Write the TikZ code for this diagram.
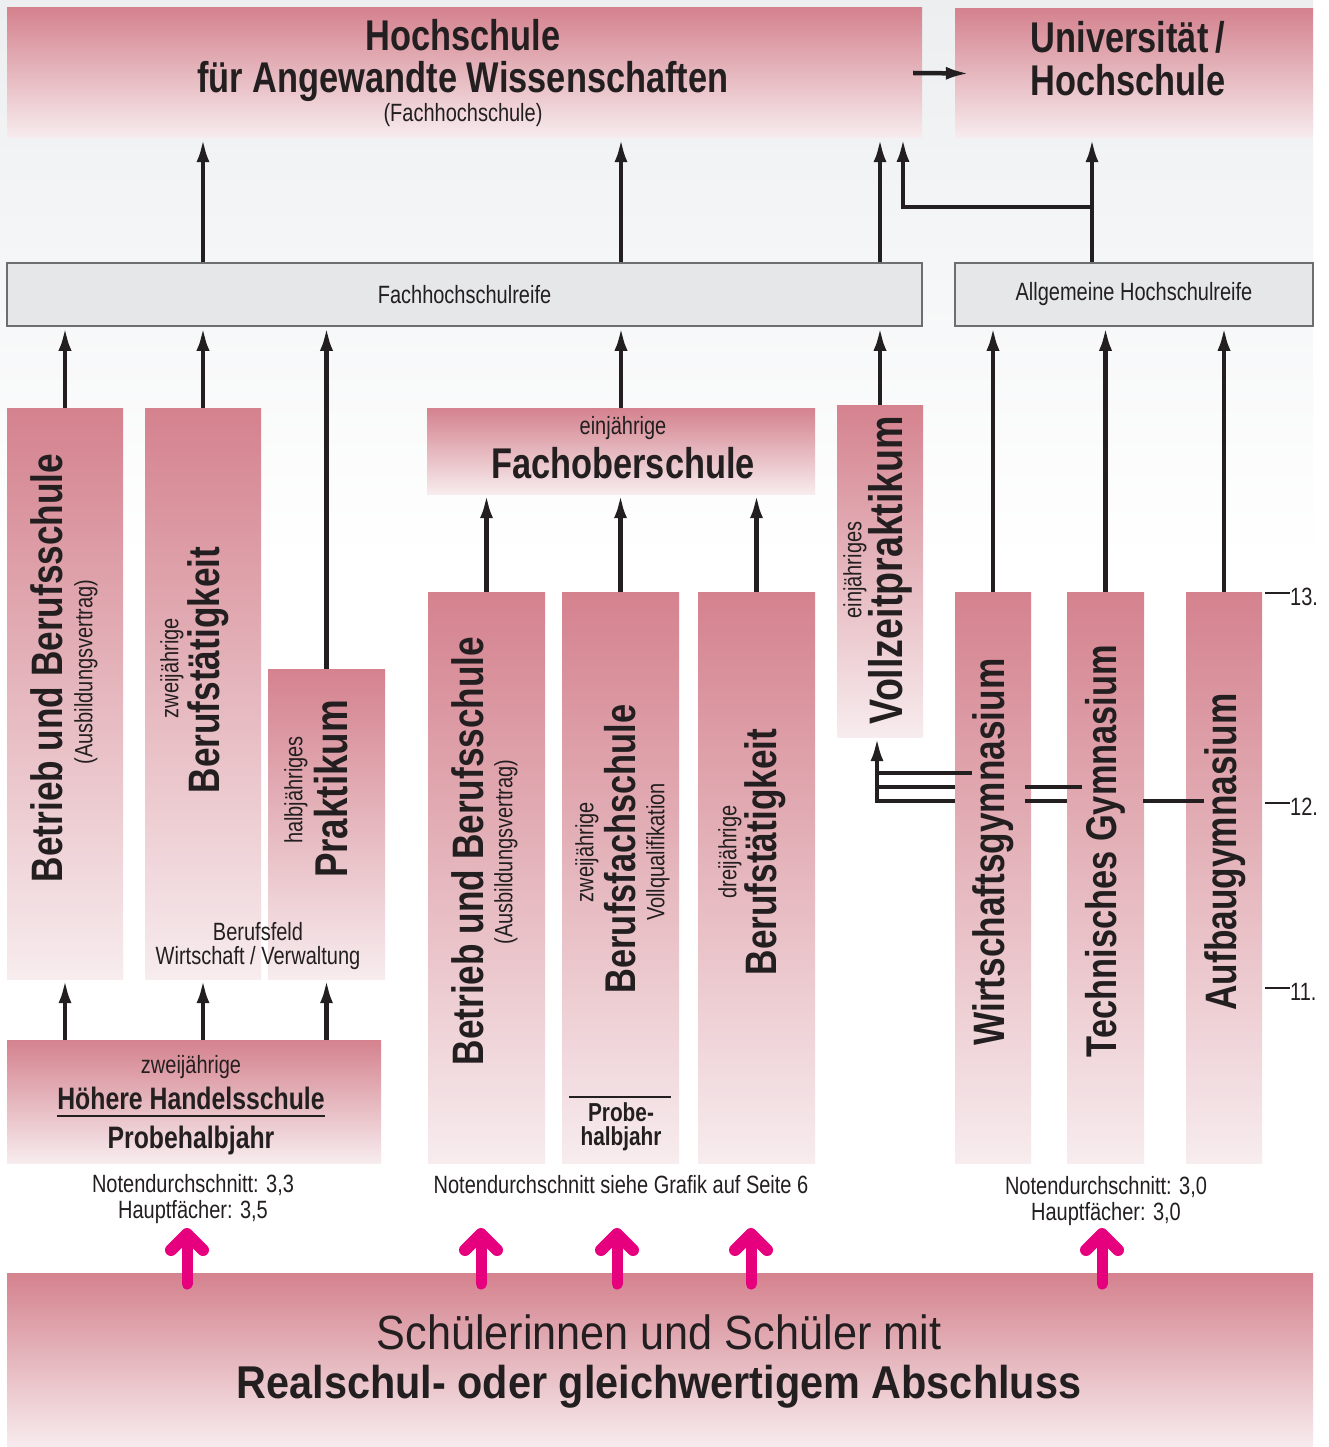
\documentclass[tikz,border=0pt]{standalone}
\usepackage{fontspec}
\setmainfont{Liberation Sans}[FakeStretch=0.8]
\newfontfamily\wide{Liberation Sans}[FakeStretch=0.9]
\usetikzlibrary{arrows.meta}
\definecolor{ink}{HTML}{231F20}
\definecolor{pinktop}{RGB}{212,130,142}
\definecolor{pinkbot}{RGB}{247,236,238}
\definecolor{barfill}{HTML}{E6E7E9}
\definecolor{barline}{HTML}{6D6E70}
\definecolor{magup}{RGB}{230,0,126}
\definecolor{bgtop}{HTML}{ECEEF0}
\definecolor{bgmid}{HTML}{F2F3F3}
\newcommand\fs[2]{\fontsize{#1}{#2}\selectfont}
\begin{document}
\begin{tikzpicture}[x=1pt,y=-1pt,
	pinkbox/.style args={#1/#2}{inner sep=0pt, minimum width=#1, minimum height=#2, top color=pinktop, bottom color=pinkbot, draw=none},
	greybar/.style args={#1/#2}{inner sep=0pt, minimum width=#1, minimum height=#2, fill=barfill, draw=barline, line width=1.5pt, text=ink, font=\fs{25}{27}},
	up/.style={draw=ink, line width=4.5pt, -{Latex[length=24pt,width=13pt]}},
	link/.style={draw=ink, line width=4pt},
	rule/.style={draw=ink, line width=1.5pt},
	txt/.style={text=ink, inner sep=0pt},
	vtxt/.style={text=ink, inner sep=0pt, rotate=90},
	big/.style={font=\fs{44}{44}\bfseries},
	small/.style={font=\fs{25}{27}},
	magpic/.pic={\draw[magup, line width=11pt, line cap=round] (0,0) -- (0,-44);
		\draw[magup, line width=12pt, line cap=round, line join=round] (-16,-34) -- (0,-50) -- (16,-34);}]
	\useasboundingbox (0,0) rectangle (1328,1447);
	\fill[white] (0,0) rectangle (1328,1447);
	\shade[top color=bgtop, middle color=bgmid, bottom color=white] (0,0) rectangle (1313,560);

	\node[pinkbox=915pt/130pt] (hs) at (464.5,73) {};
	\node[pinkbox=358pt/129pt] (uni) at (1134,73.5) {};
	\node[greybar=915pt/63pt] (fhr) at (464.5,294.5) {Fachhochschulreife};
	\node[greybar=358pt/63pt] (ahr) at (1134,294.5) {Allgemeine Hochschulreife};
	\node[pinkbox=116pt/571pt] (bbs) at (65,693.5) {};
	\node[pinkbox=116pt/571pt] (bt) at (203,693.5) {};
	\node[pinkbox=117pt/310pt] (prak) at (326.5,824) {};
	\node[pinkbox=374pt/123pt] (hh) at (194,1101.5) {};
	\node[pinkbox=388pt/86pt] (fos) at (621,451) {};
	\node[pinkbox=117pt/571pt] (bbs2) at (486.5,877.5) {};
	\node[pinkbox=117pt/571pt] (bfs) at (620.5,877.5) {};
	\node[pinkbox=117pt/571pt] (dbt) at (756.5,877.5) {};
	\node[pinkbox=86pt/332pt] (vzp) at (880,571) {};
	\node[pinkbox=76pt/571pt] (wg) at (993,877.5) {};
	\node[pinkbox=77pt/571pt] (tg) at (1105.5,877.5) {};
	\node[pinkbox=76pt/571pt] (ag) at (1224,877.5) {};
	\node[pinkbox=1306pt/174pt] (sus) at (660,1360) {};

	\node[txt, font=\fs{43}{43}\bfseries] (hs-a) at (463,35.5) {Hochschule};
	\node[txt, font=\fs{43}{43}\bfseries] (hs-b) at (463,81.5) {für Angewandte Wissenschaften};
	\node[txt, small] (hs-c) at (463,115) {(Fachhochschule)};
	\node[txt, font=\fs{43}{43}\bfseries] (uni-a) at (1128,37) {Universität\,/};
	\node[txt, font=\fs{43}{43}\bfseries] (uni-b) at (1128,80) {Hochschule};

	\node[vtxt, big] (bbs-a) at (47,668) {Betrieb und Berufsschule};
	\node[vtxt, small] (bbs-b) at (86,672) {(Ausbildungsvertrag)};
	\node[vtxt, small] (bt-a) at (172,668) {zweijährige};
	\node[vtxt, big] (bt-b) at (208,670) {Berufstätigkeit};
	\node[vtxt, small] (prak-a) at (296,790) {halbjähriges};
	\node[vtxt, font=\fs{46}{46}\bfseries] (prak-b) at (331,789) {Praktikum};
	\node[txt, small] (feld-a) at (258,932) {Berufsfeld};
	\node[txt, small] (feld-b) at (258,958) {Wirtschaft / Verwaltung};
	\node[txt, small] (hh-a) at (191,1067) {zweijährige};
	\node[txt, font=\fs{31}{31}\bfseries] (hh-b) at (191,1098) {Höhere Handelsschule};
	\node[txt, font=\fs{31}{31}\bfseries] (hh-c) at (191,1140) {Probehalbjahr};

	\node[txt, small] (fos-a) at (623,428) {einjährige};
	\node[txt, font=\fs{43}{43}\bfseries] (fos-b) at (623,463) {Fachoberschule};
	\node[vtxt, big] (bbs2-a) at (468,851) {Betrieb und Berufsschule};
	\node[vtxt, small] (bbs2-b) at (506,852) {(Ausbildungsvertrag)};
	\node[vtxt, small] (bfs-a) at (587,852) {zweijährige};
	\node[vtxt, font=\fs{43}{43}\bfseries] (bfs-b) at (620,849) {Berufsfachschule};
	\node[vtxt, small] (bfs-c) at (658,852) {Vollqualifikation};
	\node[txt, font=\fs{26}{26}\bfseries] (bfs-d) at (621,1112) {Probe-};
	\node[txt, font=\fs{26}{26}\bfseries] (bfs-e) at (621,1139) {halbjahr};
	\node[vtxt, small] (dbt-a) at (730,852) {dreijährige};
	\node[vtxt, big] (dbt-b) at (765,852) {Berufstätigkeit};

	\node[vtxt, small] (vzp-a) at (855,570) {einjähriges};
	\node[vtxt, font=\fs{47}{47}\bfseries] (vzp-b) at (890,570) {Vollzeitpraktikum};
	\node[vtxt, big] (wg-a) at (993,852) {Wirtschaftsgymnasium};
	\node[vtxt, font=\fs{43}{43}\bfseries] (tg-a) at (1105,851) {Technisches Gymnasium};
	\node[vtxt, big] (ag-a) at (1225,852) {Aufbaugymnasium};

	\node[txt, small] (note1-a) at (193,1185) {Notendurchschnitt: 3,3};
	\node[txt, small] (note1-b) at (193,1212) {Hauptfächer: 3,5};
	\node[txt, small] (note2) at (621,1185) {Notendurchschnitt siehe Grafik auf Seite 6};
	\node[txt, small] (note3-a) at (1106,1187) {Notendurchschnitt: 3,0};
	\node[txt, small] (note3-b) at (1106,1214) {Hauptfächer: 3,0};
	\node[txt, font=\wide\fs{48}{48}] (sus-a) at (659,1332) {Schülerinnen und Schüler mit};
	\node[txt, font=\wide\fs{46}{46}\bfseries] (sus-b) at (659,1387) {Realschul- oder gleichwertigem Abschluss};

	\node[txt, small, anchor=west] (g13) at (1290,597) {13.};
	\node[txt, small, anchor=west] (g12) at (1290,807) {12.};
	\node[txt, small, anchor=west] (g11) at (1290,992) {11.};

	\draw[rule] ([yshift=-6.5pt]hh-b.south west) -- ([yshift=-6.5pt]hh-b.south east);
	\coordinate (r1) at (569,1097);
	\coordinate (r2) at (671,1097);
	\draw[rule] (r1) -- (r2);
	\draw[link, line width=2pt] ([yshift=4pt]g13.west) -- ++(-25,0);
	\draw[link, line width=2pt] ([yshift=4pt]g12.west) -- ++(-25,0);
	\draw[link, line width=2pt] ([yshift=4pt]g11.west) -- ++(-25,0);

	\draw[up] ([xshift=-9pt]hs.east) -- ([xshift=15pt]uni.west);
	\draw[up] (bt.north |- fhr.north) -- (bt.north |- hs.south);
	\draw[up] (fos.north |- fhr.north) -- (fos.north |- hs.south);
	\draw[up] (vzp.north |- fhr.north) -- (vzp.north |- hs.south);
	\coordinate (split) at (1092,207);
	\coordinate (hsin) at (903,138);
	\draw[up] (split |- ahr.north) -- (split |- uni.south);
	\draw[up] (split) -| (hsin);

	\draw[up] (bbs.north) -- (bbs.north |- fhr.south);
	\draw[up] (bt.north) -- (bt.north |- fhr.south);
	\draw[up] (prak.north) -- (prak.north |- fhr.south);
	\draw[up] (fos.north) -- (fos.north |- fhr.south);
	\draw[up] (vzp.north) -- (vzp.north |- fhr.south);
	\draw[up] (wg.north) -- (wg.north |- ahr.south);
	\draw[up] (tg.north) -- (tg.north |- ahr.south);
	\draw[up] (ag.north) -- (ag.north |- ahr.south);

	\draw[up] (bbs.south |- hh.north) -- (bbs.south);
	\draw[up] (bt.south |- hh.north) -- (bt.south);
	\draw[up] (prak.south |- hh.north) -- (prak.south);

	\draw[up] (bbs2.north) -- (bbs2.north |- fos.south);
	\draw[up] (bfs.north) -- (bfs.north |- fos.south);
	\draw[up] (dbt.north) -- (dbt.north |- fos.south);

	\coordinate (t1) at (972,773);
	\coordinate (t2) at (955,787);
	\coordinate (t3) at (955,801);
	\coordinate (vzfoot) at (877,801);
	\draw[link] (t1) -- (t1 -| vzfoot);
	\draw[link] (t2) -- (t2 -| vzfoot);
	\draw[up] (t3) -- (vzfoot) -- (vzfoot |- vzp.south);
	\coordinate (w1) at (1025,787);
	\coordinate (w2) at (1082,787);
	\coordinate (w3) at (1025,801);
	\coordinate (w4) at (1067,801);
	\draw[link] (w1) -- (w2);
	\draw[link] (w3) -- (w4);
	\coordinate (a1) at (1143,801);
	\coordinate (a2) at (1204,801);
	\draw[link] (a1) -- (a2);

	\pic at (187,1284) {magpic};
	\pic at (481,1284) {magpic};
	\pic at (617,1284) {magpic};
	\pic at (751,1284) {magpic};
	\pic at (1102,1284) {magpic};
\end{tikzpicture}
\end{document}
